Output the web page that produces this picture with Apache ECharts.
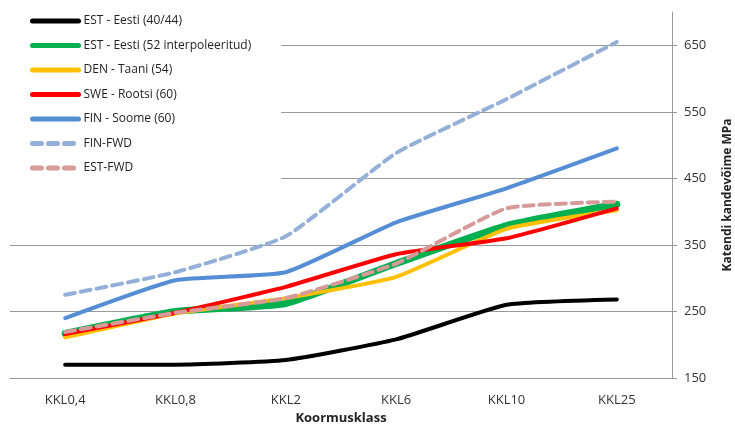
<!DOCTYPE html>
<html>
<head>
<meta charset="utf-8">
<script src="https://cdn.jsdelivr.net/npm/echarts@6/dist/echarts.min.js"></script>
<style>
  html, body { margin: 0; padding: 0; background: #fff; }
  #main { width: 735px; height: 425px; }
</style>
</head>
<body>
<div id="main"></div>
<script>
var categories = ['KKL0,4', 'KKL0,8', 'KKL2', 'KKL6', 'KKL10', 'KKL25'];

var est4044 = [170, 170, 177, 208, 260, 268];
var est52 = [217, 250, 262, 322, 379, 411];
var den54 = [211, 247, 270, 302, 374, 402];
var swe60 = [216, 248, 287, 336, 360, 405];
var fin60 = [240, 297, 309, 384, 435, 495];
var finFwd = [275, 309, 363, 488, 569, 655];
var estFwd = [219, 248, 270, 322, 405, 415];

var myChart = echarts.init(document.getElementById('main'));

var font = 'Open Sans';

function line(name, data, color, width, dashed) {
    return {
        name: name,
        type: 'line',
        data: data,
        smooth: 0.15,
        symbol: 'none',
        lineStyle: {
            color: color,
            width: width,
            type: dashed ? [10, 6] : 'solid',
            cap: 'round',
            join: 'round'
        },
        itemStyle: { color: color }
    };
}

var series = [
    line('EST - Eesti (40/44)', est4044, '#000000', 4),
    line('EST - Eesti (52 interpoleeritud)', est52, '#00B050', 7),
    line('DEN - Taani (54)', den54, '#FFC000', 4),
    line('SWE - Rootsi (60)', swe60, '#FF0000', 4),
    line('FIN - Soome (60)', fin60, '#558ED5', 4),
    line('FIN-FWD', finFwd, '#95B0D8', 4, true),
    line('EST-FWD', estFwd, '#D79A98', 4, true)
];

var option = {
    animation: false,
    textStyle: { fontFamily: font },
    legend: {
        orient: 'vertical',
        left: 10,
        top: 9,
        padding: [6, 30, 6, 20],
        itemWidth: 46,
        itemHeight: 14,
        itemGap: 12.5,
        backgroundColor: '#fff',
        itemStyle: { opacity: 0 },
        data: series.map(function (s) {
            return {
                name: s.name,
                lineStyle: { width: 5, type: s.lineStyle.type === 'solid' ? 'solid' : [9, 7], cap: 'round' }
            };
        }),
        textStyle: { fontSize: 12, color: '#222', fontFamily: font }
    },
    grid: {
        left: 10,
        right: 63,
        top: 12,
        bottom: 47,
        outerBoundsMode: 'none'
    },
    xAxis: {
        type: 'category',
        data: categories,
        boundaryGap: true,
        name: 'Koormusklass',
        nameLocation: 'middle',
        nameGap: 32,
        nameTextStyle: { fontWeight: 'bold', fontSize: 13, color: '#222' },
        axisLine: { lineStyle: { color: '#999' } },
        axisTick: { length: 5, lineStyle: { color: '#999' } },
        axisLabel: { fontSize: 13, color: '#333', margin: 16 }
    },
    yAxis: {
        type: 'value',
        position: 'right',
        min: 150,
        max: 700,
        interval: 100,
        name: 'Katendi kandevõime MPa',
        nameLocation: 'middle',
        nameRotate: 90,
        nameGap: 50,
        nameTextStyle: { fontWeight: 'bold', fontSize: 12, color: '#222' },
        axisLine: { show: true, lineStyle: { color: '#999' } },
        axisTick: { show: true, length: 5, lineStyle: { color: '#999' } },
        axisLabel: { fontSize: 13, color: '#333', margin: 12, showMaxLabel: false },
        splitLine: { show: true, showMaxLine: false, lineStyle: { color: '#999' } }
    },
    series: series
};

myChart.setOption(option);
</script>
</body>
</html>
